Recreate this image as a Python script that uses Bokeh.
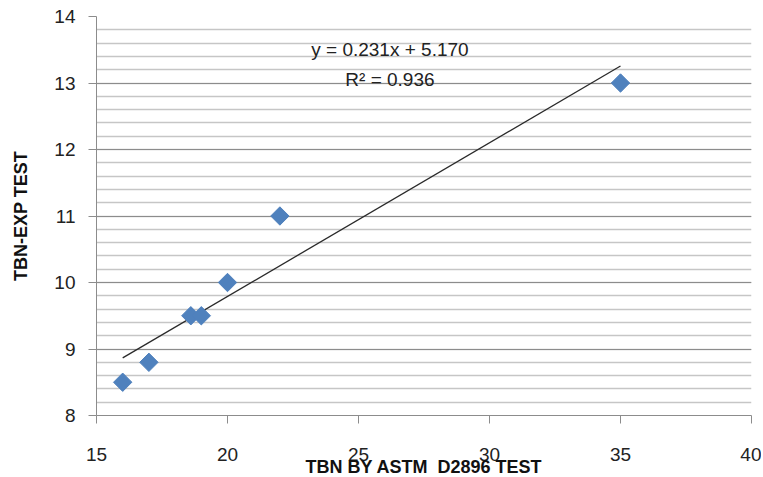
from bokeh.plotting import figure
from bokeh.models import Range1d, FixedTicker, Label
from bokeh.embed import file_html
from bokeh.resources import INLINE
import numpy as np

# data
tbn_astm = [16, 17, 18.6, 19, 20, 22, 35]
tbn_exp = [8.5, 8.8, 9.5, 9.5, 10, 11, 13]
slope = 0.231
intercept = 5.170
r2 = 0.936
x_ticks = [15, 20, 25, 30, 35, 40]
y_ticks = [8, 9, 10, 11, 12, 13, 14]

FONT = "Liberation Sans"

p = figure(frame_width=655, frame_height=399, output_backend="svg", toolbar_location=None,
           x_range=Range1d(15, 40), y_range=Range1d(8, 14),
           min_border_left=96, min_border_top=16, min_border_right=10, min_border_bottom=54)
p.outline_line_color = None
p.background_fill_color = "white"
p.border_fill_color = "white"

# grids
p.xgrid.grid_line_color = None
p.ygrid.grid_line_color = "#8c8c8c"
p.ygrid.grid_line_width = 1
p.ygrid.minor_grid_line_color = "#c6c6c6"
p.ygrid.minor_grid_line_width = 1.3

# axes
p.xaxis.ticker = FixedTicker(ticks=x_ticks)
p.yaxis.ticker = FixedTicker(ticks=y_ticks, minor_ticks=[v / 5 for v in range(40, 71)])
for ax in (p.xaxis[0], p.yaxis[0]):
    ax.axis_line_color = "#8c8c8c"
    ax.major_tick_line_color = "#8c8c8c"
    ax.major_tick_out = 8
    ax.major_tick_in = 0
    ax.minor_tick_line_color = None
    ax.major_label_text_font = FONT
    ax.major_label_text_font_size = "19px"
    ax.major_label_text_color = "#222222"
    ax.axis_label_text_font = FONT
    ax.axis_label_text_font_size = "18px"
    ax.axis_label_text_font_style = "bold"
    ax.axis_label_text_color = "#111111"

p.xaxis.axis_label = "TBN BY ASTM\u00a0 D2896 TEST"
p.xaxis.major_label_standoff = 24
p.xaxis.axis_label_standoff = -7
p.yaxis.axis_label = "TBN-EXP TEST"
p.yaxis.major_label_standoff = 13
p.yaxis.axis_label_standoff = 20

# trendline
xs = np.array([min(tbn_astm), max(tbn_astm)])
p.line(xs, slope * xs + intercept, line_color="#2a2a2a", line_width=1.3)

# markers
p.scatter(tbn_astm, tbn_exp, marker="square", size=13, angle=np.pi / 4,
          fill_color="#4F81BD", line_color="#4F81BD")

p.add_layout(Label(x=26.2, y=13.5, text=f"y = {slope:.3f}x + {intercept:.3f}",
                   text_font=FONT, text_font_size="19px", text_align="center",
                   text_baseline="middle", text_color="#222222"))
p.add_layout(Label(x=26.2, y=13.05, text=f"R² = {r2:.3f}",
                   text_font=FONT, text_font_size="19px", text_align="center",
                   text_baseline="middle", text_color="#222222"))

open("out.html", "w").write(file_html(p, INLINE))
